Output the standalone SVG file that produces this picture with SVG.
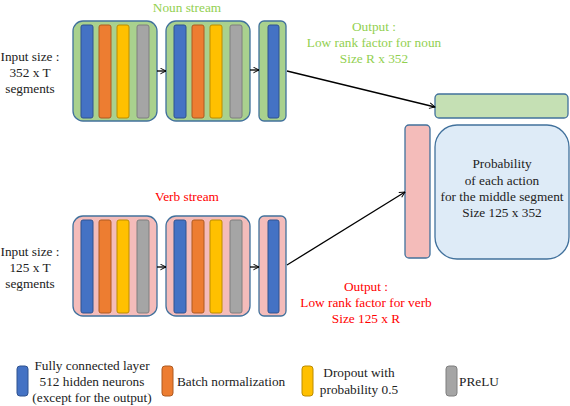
<svg xmlns="http://www.w3.org/2000/svg" width="570" height="406" viewBox="0 0 570 406" font-family="'Liberation Serif', 'Times New Roman', serif">
<style>
text{font-family:"Liberation Serif","Times New Roman",serif;font-size:13.3px;fill:#222}
.c{text-anchor:middle}
.g{fill:#92D050}
.r{fill:#FF0000}
.box{stroke:#41719C;stroke-width:1.3}
.gn{fill:#A9D18E}
.pk{fill:#F4BCBA}
.b{fill:#4472C4;stroke:#2F528F;stroke-width:1}
.o{fill:#ED7D31;stroke:#AE5A21;stroke-width:1}
.y{fill:#FFC000;stroke:#BC8C00;stroke-width:1}
.gy{fill:#A5A5A5;stroke:#7F7F7F;stroke-width:1}
.ln{stroke:#000;stroke-width:1.3;fill:none;marker-end:url(#ah)}
</style>
<defs>
<marker id="ah" viewBox="0 0 10 10" refX="9" refY="5" markerWidth="7" markerHeight="7" orient="auto" markerUnits="userSpaceOnUse">
<path d="M1,1 L9,5 L1,9" fill="none" stroke="#000" stroke-width="1.4"/>
</marker>
</defs>
<rect width="570" height="406" fill="#fff"/>

<g id="noun-labels">
<text class="c g" x="187" y="12">Noun stream</text>
<text class="c" x="30" y="61">Input size :</text>
<text class="c" x="30" y="77">352 x T</text>
<text class="c" x="30" y="93">segments</text>
<text class="c g" x="374" y="31">Output :</text>
<text class="c g" x="374" y="47">Low rank factor for noun</text>
<text class="c g" x="374" y="63">Size R x 352</text>
</g>

<g id="noun-block1">
<rect class="box gn" x="73" y="21" width="84" height="100" rx="10"/>
<rect class="b" x="81" y="25" width="12" height="93" rx="2"/>
<rect class="o" x="99" y="25" width="12" height="93" rx="2"/>
<rect class="y" x="117" y="25" width="12" height="93" rx="2"/>
<rect class="gy" x="137" y="25" width="12" height="93" rx="2"/>
</g>
<g id="noun-block2">
<rect class="box gn" x="166" y="21" width="84" height="100" rx="10"/>
<rect class="b" x="174" y="25" width="12" height="93" rx="2"/>
<rect class="o" x="192" y="25" width="12" height="93" rx="2"/>
<rect class="y" x="210" y="25" width="12" height="93" rx="2"/>
<rect class="gy" x="230" y="25" width="12" height="93" rx="2"/>
</g>
<g id="noun-block3">
<rect class="box gn" x="259" y="21" width="27" height="100" rx="5"/>
<rect class="b" x="268" y="25" width="11" height="93" rx="2"/>
</g>

<g id="verb-labels">
<text class="c r" x="187" y="201">Verb stream</text>
<text class="c" x="30" y="256">Input size :</text>
<text class="c" x="30" y="272">125 x T</text>
<text class="c" x="30" y="288">segments</text>
<text class="c r" x="366" y="291">Output :</text>
<text class="c r" x="366" y="307">Low rank factor for verb</text>
<text class="c r" x="366" y="323">Size 125 x R</text>
</g>

<g id="verb-block1">
<rect class="box pk" x="73" y="216" width="84" height="100" rx="10"/>
<rect class="b" x="81" y="220" width="12" height="93" rx="2"/>
<rect class="o" x="99" y="220" width="12" height="93" rx="2"/>
<rect class="y" x="117" y="220" width="12" height="93" rx="2"/>
<rect class="gy" x="137" y="220" width="12" height="93" rx="2"/>
</g>
<g id="verb-block2">
<rect class="box pk" x="166" y="216" width="84" height="100" rx="10"/>
<rect class="b" x="174" y="220" width="12" height="93" rx="2"/>
<rect class="o" x="192" y="220" width="12" height="93" rx="2"/>
<rect class="y" x="210" y="220" width="12" height="93" rx="2"/>
<rect class="gy" x="230" y="220" width="12" height="93" rx="2"/>
</g>
<g id="verb-block3">
<rect class="box pk" x="259" y="216" width="27" height="100" rx="5"/>
<rect class="b" x="268" y="220" width="11" height="93" rx="2"/>
</g>

<g id="noun-output">
<rect class="box" fill="#C5E0B4" x="435" y="94" width="133" height="24" rx="4"/>
</g>
<g id="verb-output">
<rect class="box pk" x="405" y="125" width="25" height="133" rx="4"/>
</g>
<g id="probability">
<rect class="box" fill="#DEEBF7" x="435" y="125" width="134" height="134" rx="22"/>
<text class="c" x="502" y="168">Probability</text>
<text class="c" x="502" y="185">of each action</text>
<text class="c" x="502" y="201">for the middle segment</text>
<text class="c" x="502" y="217">Size 125 x 352</text>
</g>

<g id="connectors">
<line class="ln" x1="157" y1="71" x2="166" y2="71"/>
<line class="ln" x1="250" y1="70" x2="259" y2="70"/>
<line class="ln" x1="157" y1="267" x2="166" y2="267"/>
<line class="ln" x1="250" y1="267" x2="259" y2="267"/>
<line class="ln" x1="287" y1="71" x2="435" y2="107"/>
<line class="ln" x1="287" y1="265" x2="405" y2="192"/>
</g>

<g id="legend">
<rect class="b" x="17" y="366" width="11" height="30" rx="3"/>
<text class="c" x="92" y="370">Fully connected layer</text>
<text class="c" x="92" y="386">512 hidden neurons</text>
<text class="c" x="92" y="402">(except for the output)</text>
<rect class="o" x="162" y="366" width="11" height="30" rx="3"/>
<text x="177" y="386">Batch normalization</text>
<rect class="y" x="302" y="366" width="11" height="30" rx="3"/>
<text class="c" x="359" y="377">Dropout with</text>
<text class="c" x="359" y="394">probability 0.5</text>
<rect class="gy" x="446" y="366" width="11" height="30" rx="3"/>
<text x="459" y="386">PReLU</text>
</g>
</svg>
